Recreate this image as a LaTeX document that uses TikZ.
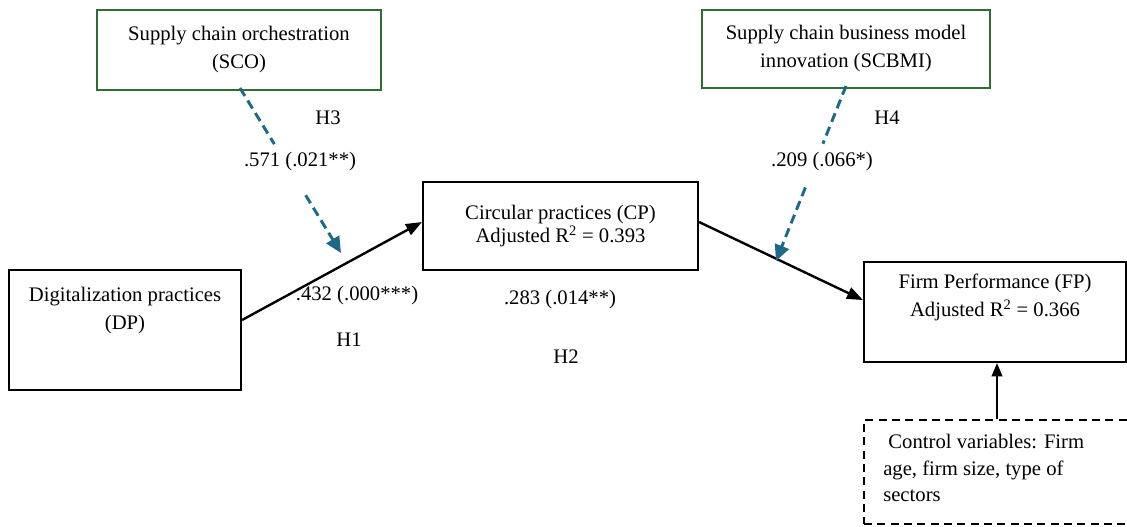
\documentclass[tikz,border=0pt]{standalone}
\usepackage{fontspec}
\setmainfont{Liberation Serif}
\usetikzlibrary{arrows.meta,calc}
\definecolor{boxgreen}{RGB}{46,110,52}
\definecolor{dashblue}{RGB}{30,105,135}
\begin{document}
\begin{tikzpicture}[x=0.75pt,y=-0.75pt,
  sz/.style 2 args={minimum width={#1*0.75pt}, minimum height={#2*0.75pt}},
  txt/.style={font=\fontsize{15.5}{21}\selectfont, align=center, inner sep=0pt},
  box/.style={draw=black, line width=1.6pt, inner sep=0pt, txt},
  gbox/.style={draw=boxgreen, line width=1.4pt, inner sep=0pt, txt},
  cbox/.style={draw=black, line width=1.4pt, dash pattern=on 6pt off 4pt, inner sep=0pt},
  lab/.style={txt},
  path/.style={draw=black, line width=1.8pt, -{Triangle[length=12pt,width=9pt]}},
  moddash/.style={draw=dashblue, line width=2.2pt, dash pattern=on 7pt off 4pt},
  mod/.style={moddash, -{Triangle[length=12pt,width=11pt]}}
]
\useasboundingbox[fill=white] (0,0) rectangle (1127,526);

% boxes
\node[gbox, sz={284}{80}] (sco) at (239,50) {Supply chain orchestration\\(SCO)};
\node[gbox, sz={288}{78}] (scbmi) at (846,49) {Supply chain business model\\innovation (SCBMI)};
\node[box, sz={275}{88}, font=\fontsize{15.5}{17.5}\selectfont] (cp) at (560.5,226) {Circular practices (CP)\\Adjusted R\textsuperscript{2} = 0.393};
\node[box, sz={232}{120}] (dp) at (125,330) {};
\node[txt] (dpt) at (125,311) {Digitalization practices\\(DP)};
\node[box, sz={262}{100}] (fp) at (995,312) {};
\node[txt] (fpt) at (995,297) {Firm Performance (FP)\\Adjusted R\textsuperscript{2} = 0.366};
\node[cbox, sz={266}{104}] (cv) at (997,472) {};
\node[font=\fontsize{15.5}{20}\selectfont, align=left, inner sep=0pt, anchor=north west] (cvt) at (883,434) {\ Control variables: Firm\\age, firm size, type of\\sectors};

% main paths
\coordinate (dpout) at (dp.east |- 0,320);
\coordinate (cpin) at (cp.west |- 0,222);
\coordinate (cpout) at (cp.east |- 0,222);
\coordinate (fpin) at (fp.west |- 0,300);
\draw[path] (dpout) -- (cpin);
\draw[path] (cpout) -- (fpin);
\draw[draw=black, line width=1.4pt, -{Triangle[length=10pt,width=8pt]}] (cv.north -| 997,0) -- (fp.south -| 997,0);

% moderation arrows
\coordinate (scoout) at (240,88);
\coordinate (t1) at (341,253);
\coordinate (scbmiout) at (846,86);
\coordinate (t2) at (776,261);
\draw[moddash] (scoout) -- ($(scoout)!0.34!(t1)$);
\draw[mod] ($(scoout)!0.65!(t1)$) -- (t1);
\draw[moddash] (scbmiout) -- ($(scbmiout)!0.33!(t2)$);
\draw[mod] ($(scbmiout)!0.58!(t2)$) -- (t2);
\node[lab] (l3) at (300,162) {.571 (.021**)};
\node[lab] (l4) at (822,162) {.209 (.066*)};

% labels
\node[lab] (h3) at (328,118) {H3};
\node[lab] (h4) at (887,118) {H4};
\node[lab] (l1) at (357,296) {.432 (.000***)};
\node[lab] (h1) at (349,340) {H1};
\node[lab] (l2) at (560,300) {.283 (.014**)};
\node[lab] (h2) at (566,357) {H2};
\end{tikzpicture}
\end{document}
